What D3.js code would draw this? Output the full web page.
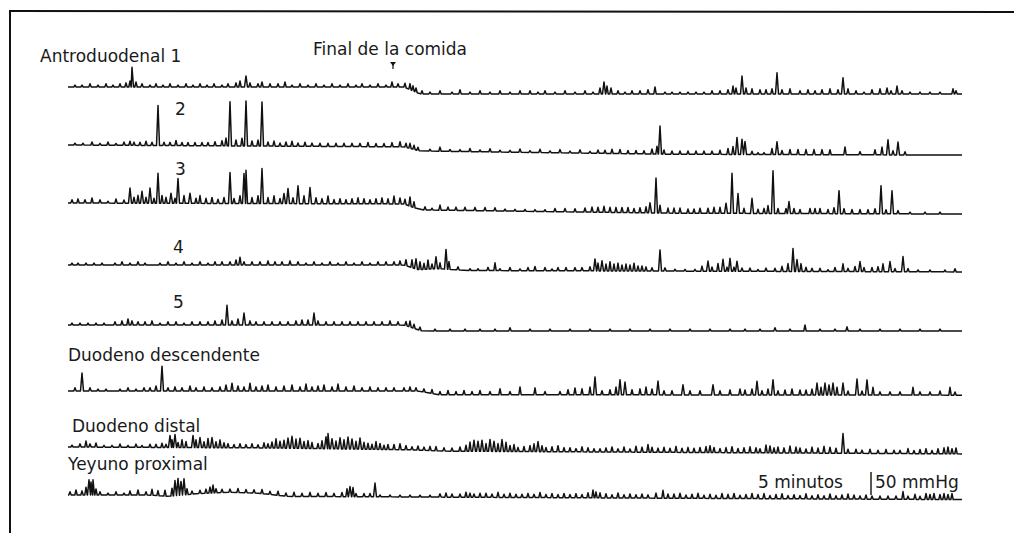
<!DOCTYPE html>
<html>
<head>
<meta charset="utf-8">
<script src="https://cdn.jsdelivr.net/npm/d3@7"></script>
<style>
  body { margin: 0; background: #fff; }
  text { font-family: "DejaVu Sans", sans-serif; font-size: 17px; fill: #1a1a1a; }
</style>
</head>
<body>
<svg id="chart" width="1014" height="533"></svg>
<script>
// channel labels, time in min, pressure waves as [t, mmHg]
var channels = ["Antroduodenal 1", "2", "3", "4", "5", "Duodeno descendente", "Duodeno distal", "Yeyuno proximal"];
var tEnd = 89.4;
var mealEnd = 32.5;
var scaleBarMmHg = 50;
var scaleBarT = 80.3;

var antro1 = [[0.7,4],[1.4,4],[2.2,7],[3.0,4],[3.8,7],[4.5,4],[5.2,7],[5.8,9],[6.2,13],[6.4,43],[6.8,11],[7.4,7],[8.2,4],[8.8,7],[9.5,4],[10.2,7],[11.0,4],[11.8,7],[12.5,4],[13.2,7],[13.9,4],[14.6,7],[15.4,4],[16.0,7],[16.8,9],[17.2,13],[17.8,24],[18.2,9],[19.0,7],[19.4,11],[20.2,7],[21.0,7],[21.7,11],[22.4,4],[23.2,7],[24.0,4],[24.8,7],[25.6,4],[26.4,7],[27.2,4],[28.0,7],[28.8,4],[29.4,7],[30.2,4],[31.0,7],[31.8,4],[32.4,11],[33.0,7],[33.7,9],[34.2,13],[34.5,11],[34.8,9],[35.4,7],[36.2,4],[37.2,7],[38.4,4],[39.2,9],[40.2,4],[41.2,7],[42.2,4],[43.2,7],[44.2,4],[45.2,7],[46.2,7],[47.0,4],[47.7,7],[48.7,4],[49.7,7],[50.7,4],[51.7,7],[52.5,4],[53.2,13],[53.6,26],[53.9,17],[54.3,13],[55.0,7],[55.7,4],[56.4,7],[57.2,7],[58.0,9],[58.7,15],[59.7,4],[60.4,4],[61.2,4],[62.0,4],[62.8,4],[63.6,4],[64.4,7],[65.2,7],[66.0,9],[66.5,17],[66.8,13],[67.4,39],[67.8,13],[68.4,11],[69.2,9],[69.8,9],[70.4,11],[70.9,46],[71.4,9],[72.2,11],[73.2,7],[74.0,9],[74.7,7],[75.4,9],[76.2,11],[77.0,9],[77.5,35],[78.0,11],[78.8,7],[79.6,4],[80.4,9],[81.2,11],[81.9,13],[82.3,7],[82.9,17],[83.4,7],[84.2,4],[85.2,4],[86.2,4],[87.2,4],[88.5,11],[88.8,7]];
var antro2 = [[0.7,4],[1.5,4],[2.4,7],[3.2,4],[4.0,7],[4.8,4],[5.6,7],[6.2,9],[6.6,7],[7.2,7],[7.8,9],[8.4,7],[9.0,87],[9.6,7],[10.2,7],[10.8,11],[11.4,7],[12.0,7],[12.7,7],[13.4,7],[14.0,7],[14.7,9],[15.4,11],[15.8,17],[16.2,96],[16.8,13],[17.4,17],[17.8,98],[18.4,11],[19.0,13],[19.4,96],[20.0,9],[20.6,11],[21.2,7],[21.8,9],[22.4,11],[23.0,7],[23.7,9],[24.4,7],[25.2,7],[26.0,7],[26.8,7],[27.6,7],[28.4,7],[29.2,7],[30.0,9],[30.8,7],[31.6,7],[32.4,9],[33.2,11],[33.8,9],[34.2,11],[34.6,9],[35.0,7],[36.2,4],[37.2,9],[38.2,4],[39.2,4],[40.2,7],[41.2,4],[42.2,7],[43.2,4],[44.2,4],[45.2,7],[46.2,4],[47.2,7],[48.2,4],[49.2,7],[50.2,4],[51.2,7],[52.2,4],[53.0,7],[53.7,7],[54.4,9],[55.2,9],[56.0,7],[56.8,7],[57.6,7],[58.4,11],[58.9,17],[59.2,61],[59.6,9],[60.4,7],[61.2,7],[62.0,7],[62.8,7],[63.6,7],[64.4,7],[65.2,9],[66.0,13],[66.5,17],[66.9,37],[67.4,33],[67.7,28],[68.4,7],[69.0,4],[69.6,4],[70.4,13],[70.9,28],[71.4,9],[72.2,11],[73.0,11],[73.8,11],[74.6,11],[75.4,11],[76.2,11],[77.7,17],[79.2,7],[80.7,11],[81.4,17],[82.0,33],[82.5,9],[83.0,28],[83.7,7]];
var antro3 = [[0.4,7],[1.0,9],[1.7,7],[2.4,11],[3.2,7],[4.0,4],[4.8,9],[5.6,7],[6.2,33],[6.6,13],[7.0,17],[7.4,26],[7.8,13],[8.2,33],[8.6,11],[9.0,65],[9.4,17],[9.8,13],[10.3,22],[10.7,11],[11.0,54],[11.6,17],[12.2,22],[12.8,11],[13.2,17],[13.8,11],[14.4,13],[15.0,9],[15.6,13],[16.2,67],[16.6,11],[17.2,17],[17.6,65],[17.8,72],[18.4,13],[19.0,17],[19.4,76],[20.0,13],[20.6,17],[21.2,11],[21.6,22],[22.0,33],[22.5,13],[23.0,39],[23.6,17],[24.2,35],[24.8,13],[25.4,11],[26.0,17],[26.6,9],[27.2,11],[27.8,9],[28.4,11],[29.0,13],[29.6,11],[30.2,9],[30.8,11],[31.4,13],[32.0,11],[32.6,17],[33.2,13],[33.7,11],[34.2,20],[34.6,13],[35.7,7],[36.4,4],[37.2,11],[38.0,7],[38.8,7],[39.7,7],[40.7,7],[41.7,7],[42.7,7],[43.7,4],[44.7,4],[45.7,4],[46.7,4],[47.7,4],[48.7,7],[49.7,7],[50.7,7],[51.7,9],[52.4,11],[53.0,11],[53.6,13],[54.2,11],[54.8,11],[55.4,11],[56.0,11],[56.6,9],[57.2,11],[57.8,13],[58.2,22],[58.8,76],[59.2,17],[60.0,11],[60.6,11],[61.2,11],[62.0,9],[62.6,9],[63.2,11],[64.0,11],[64.6,13],[65.2,13],[65.8,22],[66.4,87],[67.0,43],[67.6,11],[68.4,33],[69.0,9],[69.6,11],[70.0,17],[70.5,93],[71.0,11],[71.8,11],[72.1,26],[72.6,11],[73.2,9],[74.2,11],[74.7,11],[75.2,11],[76.0,9],[76.6,13],[77.1,50],[77.6,11],[78.4,9],[79.2,9],[80.0,9],[80.7,11],[81.3,61],[81.8,9],[82.4,50],[83.0,7],[84.2,4],[85.7,4],[87.2,4]];
var antro4 = [[0.4,4],[1.0,4],[1.8,4],[2.6,4],[3.4,4],[4.7,4],[5.4,7],[6.2,4],[7.0,7],[7.7,4],[9.2,4],[10.0,7],[10.8,4],[11.6,7],[12.4,4],[13.2,7],[14.0,4],[14.7,7],[15.4,7],[16.2,7],[16.8,11],[17.2,17],[17.6,7],[18.4,7],[19.2,7],[20.0,9],[20.7,7],[21.4,7],[22.2,9],[23.0,7],[23.8,4],[24.6,7],[25.4,4],[26.2,7],[27.0,4],[27.8,7],[28.6,4],[29.4,7],[30.2,4],[31.0,7],[31.8,7],[32.6,7],[33.2,9],[33.8,13],[34.4,17],[34.8,22],[35.2,17],[35.6,13],[36.0,20],[36.4,11],[36.8,26],[37.2,13],[37.8,43],[38.1,17],[39.0,7],[40.2,4],[41.0,4],[42.0,7],[42.7,17],[43.2,4],[44.2,7],[45.2,4],[46.0,7],[46.7,9],[47.7,7],[48.4,4],[49.0,7],[49.8,7],[50.7,7],[51.4,7],[52.2,9],[52.7,26],[53.0,17],[53.4,22],[53.8,15],[54.2,20],[54.6,15],[55.0,17],[55.4,13],[55.8,15],[56.2,13],[56.6,17],[57.0,11],[57.4,11],[57.8,9],[58.4,7],[59.2,46],[59.7,7],[60.7,4],[61.7,4],[62.7,4],[63.4,11],[64.0,22],[64.4,9],[65.0,17],[65.5,26],[65.9,9],[66.2,28],[66.6,9],[66.9,22],[67.4,7],[68.2,7],[69.0,4],[69.8,7],[70.7,7],[71.4,11],[72.0,17],[72.5,50],[72.9,26],[73.3,17],[73.8,9],[74.4,7],[75.2,7],[76.0,4],[76.7,9],[77.5,17],[78.0,7],[78.7,11],[79.2,22],[79.6,9],[80.4,9],[81.0,11],[81.5,17],[82.2,22],[82.7,7],[83.5,33],[84.0,7],[85.0,4],[86.2,4],[87.7,4],[88.7,7]];
var antro5 = [[0.4,4],[1.2,4],[2.0,4],[2.8,4],[3.6,4],[4.7,7],[5.4,9],[6.0,13],[6.4,9],[7.0,7],[7.7,7],[8.4,9],[9.2,4],[10.0,7],[10.8,7],[11.6,4],[12.4,7],[13.2,7],[14.0,7],[14.7,9],[15.4,11],[15.9,43],[16.4,9],[17.0,13],[17.6,26],[18.2,9],[18.8,7],[19.6,7],[20.4,7],[21.2,7],[22.0,7],[22.8,9],[23.4,11],[24.0,11],[24.6,26],[25.0,9],[25.8,7],[26.6,7],[27.4,7],[28.2,7],[29.0,7],[29.8,7],[30.6,7],[31.4,7],[32.2,9],[33.0,7],[33.8,9],[34.2,13],[34.6,9],[35.2,7],[36.7,4],[38.2,4],[39.7,4],[41.2,4],[42.7,4],[44.2,7],[46.2,4],[48.2,4],[50.2,4],[52.2,4],[54.2,4],[56.2,4],[58.2,4],[60.2,4],[62.2,4],[64.2,4],[66.2,4],[67.7,4],[69.2,4],[70.7,7],[72.2,4],[73.7,13],[75.2,4],[76.7,4],[77.9,9],[79.2,4],[81.2,4],[83.2,4],[85.2,4],[87.2,4]];
var duoDesc = [[0.7,7],[1.4,39],[2.2,7],[3.0,4],[3.8,4],[5.2,4],[6.0,7],[6.8,4],[7.6,7],[8.2,7],[8.8,11],[9.4,54],[10.0,7],[10.7,9],[11.4,7],[12.2,11],[12.8,7],[13.6,9],[14.4,7],[15.2,9],[15.8,13],[16.4,17],[17.0,11],[17.6,9],[18.2,17],[18.8,9],[19.4,11],[20.0,13],[20.8,9],[21.6,11],[22.4,13],[23.2,9],[23.8,15],[24.4,9],[25.0,11],[25.6,13],[26.4,9],[27.0,15],[27.8,9],[28.6,11],[29.4,7],[30.2,9],[31.0,7],[31.8,7],[32.6,7],[33.6,7],[34.2,9],[34.8,7],[35.6,7],[36.4,9],[37.2,7],[38.0,9],[38.8,7],[39.6,9],[40.4,7],[41.2,9],[42.2,7],[43.2,13],[44.2,7],[45.2,17],[46.7,15],[47.7,7],[49.2,7],[50.0,11],[50.7,15],[51.4,13],[52.2,17],[52.7,39],[53.4,9],[54.2,11],[54.8,17],[55.2,33],[55.7,28],[56.4,11],[57.2,13],[57.8,17],[58.4,13],[59.0,30],[59.6,9],[60.4,9],[61.5,22],[62.2,9],[63.2,9],[64.5,22],[65.2,9],[66.2,11],[67.2,13],[67.7,11],[68.4,13],[68.9,30],[69.4,9],[70.0,13],[70.5,33],[71.0,9],[71.7,11],[72.4,13],[73.2,11],[73.8,11],[74.4,13],[74.9,26],[75.3,17],[75.7,26],[76.1,22],[76.5,26],[76.9,17],[77.5,26],[78.0,9],[78.9,35],[79.4,9],[79.9,33],[80.5,17],[81.2,7],[82.2,7],[83.2,7],[84.5,17],[85.2,7],[86.2,7],[87.2,9],[88.2,17],[88.7,7]];
var duoDist = [[0.4,4],[1.2,7],[1.8,13],[2.2,7],[2.8,9],[3.6,4],[4.4,4],[5.2,7],[6.0,4],[6.8,7],[7.4,4],[8.2,7],[8.8,7],[9.4,9],[9.8,7],[10.2,26],[10.4,17],[10.7,28],[11.0,11],[11.4,17],[11.8,13],[12.5,26],[12.8,17],[13.2,22],[13.6,13],[14.0,20],[14.4,22],[14.8,13],[15.2,17],[15.6,11],[16.0,9],[16.6,7],[17.2,9],[17.8,7],[18.4,9],[19.0,7],[19.6,11],[20.0,9],[20.4,13],[20.8,20],[21.2,15],[21.6,17],[22.0,22],[22.4,26],[22.8,20],[23.2,22],[23.6,15],[24.0,17],[24.4,13],[25.0,11],[25.4,17],[25.8,26],[26.0,33],[26.4,22],[26.8,17],[27.2,24],[27.6,20],[28.0,26],[28.4,22],[28.8,17],[29.2,24],[29.6,15],[30.0,13],[30.4,11],[30.8,17],[31.2,13],[31.6,9],[32.0,11],[32.6,11],[33.2,13],[33.8,9],[34.4,7],[35.0,9],[35.6,7],[36.2,9],[36.8,9],[37.6,7],[38.4,7],[39.2,9],[39.8,13],[40.2,20],[40.6,24],[41.0,22],[41.4,24],[41.8,17],[42.2,26],[42.6,22],[43.0,17],[43.4,26],[43.8,20],[44.2,13],[44.6,15],[45.0,9],[45.6,11],[46.2,13],[46.6,17],[47.0,22],[47.4,13],[47.8,9],[48.4,11],[49.0,13],[49.6,9],[50.2,9],[50.8,7],[51.4,11],[52.0,9],[52.6,7],[53.2,7],[53.8,9],[54.4,11],[55.0,7],[55.6,11],[56.2,7],[56.8,13],[57.4,11],[58.0,17],[58.4,11],[59.0,9],[59.6,11],[60.2,9],[60.8,13],[61.4,9],[62.0,11],[62.6,9],[63.2,11],[63.8,13],[64.2,15],[64.6,11],[65.2,9],[65.8,11],[66.4,13],[67.0,9],[67.6,11],[68.2,13],[68.8,11],[69.2,9],[69.8,17],[70.2,15],[70.6,11],[71.0,13],[71.6,11],[72.2,15],[72.8,13],[73.2,11],[73.8,9],[74.4,13],[75.0,11],[75.6,15],[76.2,13],[76.8,11],[77.5,43],[78.0,9],[78.8,9],[79.4,7],[80.2,9],[81.0,7],[81.8,9],[82.6,7],[83.2,7],[84.0,11],[84.6,7],[85.2,9],[85.8,11],[86.4,7],[87.0,11],[87.6,13],[88.0,15],[88.4,11],[88.8,13]];
var yeyuno = [[0.2,7],[0.8,11],[1.4,9],[1.8,17],[2.1,33],[2.3,28],[2.5,33],[2.8,13],[3.2,7],[4.0,4],[4.8,7],[5.6,4],[6.2,9],[7.0,11],[7.8,7],[8.4,13],[9.0,11],[9.7,13],[10.4,17],[10.7,33],[11.0,37],[11.3,30],[11.6,35],[11.9,13],[12.4,7],[13.2,7],[13.8,9],[14.2,13],[14.5,17],[14.8,9],[15.4,7],[16.2,7],[17.0,9],[17.8,7],[18.6,7],[19.4,9],[20.2,7],[21.0,9],[21.8,7],[22.6,9],[23.4,7],[24.2,9],[25.0,7],[25.8,9],[26.6,7],[27.4,9],[27.9,17],[28.2,22],[28.5,20],[28.8,7],[29.6,7],[30.2,7],[30.7,30],[31.2,4],[32.2,4],[33.2,4],[34.2,4],[35.2,4],[36.2,4],[37.2,7],[37.8,9],[38.4,7],[39.2,7],[39.8,11],[40.2,9],[40.6,7],[41.2,9],[41.8,9],[42.4,7],[43.0,11],[43.6,7],[44.2,9],[44.8,7],[45.4,7],[46.0,9],[46.6,7],[47.2,11],[47.8,7],[48.4,9],[49.0,7],[49.6,9],[50.2,7],[50.8,9],[51.4,7],[52.0,11],[52.5,17],[52.8,13],[53.2,11],[53.8,9],[54.4,7],[55.0,11],[55.6,7],[56.2,9],[56.8,7],[57.4,9],[58.0,7],[58.8,11],[59.5,17],[60.0,9],[60.6,9],[61.2,11],[61.8,7],[62.4,9],[63.0,11],[63.6,7],[64.2,9],[64.8,7],[65.4,11],[66.0,9],[66.6,11],[67.2,7],[67.8,9],[68.4,11],[69.0,9],[69.6,11],[70.2,7],[70.8,9],[71.4,11],[72.0,7],[72.6,9],[73.2,7],[73.8,11],[74.4,7],[75.0,9],[75.6,7],[76.2,11],[76.8,7],[77.4,9],[78.0,11],[78.6,9],[79.2,7],[79.8,9],[80.4,7],[81.2,7],[82.0,7],[82.8,7],[83.5,17],[84.0,7],[84.7,11],[85.2,7],[85.8,13],[86.2,11],[86.6,13],[87.2,11],[87.6,13],[88.0,11],[88.4,13]];

// slow baseline shifts [t, mmHg]
var tone1 = [[0,0],[33.6,0],[35.2,-15],[89.4,-15]];
var tone2 = [[0,0],[33.6,-4],[35.2,-13],[60,-20],[89.4,-22]];
var tone3 = [[0,0],[33.6,-2],[35.2,-15],[60,-22],[89.4,-24]];
var tone4 = [[0,0],[33.6,0],[35,-10],[37,-8],[40,-12],[89.4,-15]];
var tone5 = [[0,0],[33.6,0],[35.4,-13],[89.4,-13]];
var toneDesc = [[0,0],[35,0],[37,-8],[89.4,-9]];
var toneDist = [[0,0],[20,-2],[34,-6],[38,-9],[89.4,-15]];
var toneYey = [[0,0],[8,0],[10,-3],[13,3],[16,6],[19,4],[22,-3],[89.4,-10]];

var traces = [
  {spikes: antro1, tone: tone1},
  {spikes: antro2, tone: tone2},
  {spikes: antro3, tone: tone3},
  {spikes: antro4, tone: tone4},
  {spikes: antro5, tone: tone5},
  {spikes: duoDesc, tone: toneDesc},
  {spikes: duoDist, tone: toneDist},
  {spikes: yeyuno, tone: toneYey}
];

var svg = d3.select('#chart');
var baseY = [87, 145, 203, 265, 325, 391, 447, 495];

var x = d3.scaleLinear().domain([0, tEnd]).range([68, 962]);
var p = d3.scaleLinear().domain([0, 50]).range([0, -23]);

// frame
svg.append('line').attr('x1', 10).attr('y1', 10).attr('x2', 10).attr('y2', 533)
  .attr('stroke', '#111').attr('stroke-width', 2);
svg.append('line').attr('x1', 10).attr('y1', 11).attr('x2', 1014).attr('y2', 12)
  .attr('stroke', '#111').attr('stroke-width', 2);

var line = d3.line().x(function(d) { return x(d[0]); }).y(function(d) { return d[1]; });

traces.forEach(function(tr, i) {
  var tone = d3.scaleLinear()
    .domain(tr.tone.map(function(d) { return d[0]; }))
    .range(tr.tone.map(function(d) { return d[1]; }))
    .clamp(true);
  var y = function(t, v) { return baseY[i] + p(tone(t) + v); };

  var pts = [[0, y(0, 0)]];
  var last = 0;
  tr.spikes.forEach(function(s) {
    // narrow waves, a little wider at the base for the big ones
    var hw = s[1] > 20 ? 0.15 : 0.12;
    var t0 = Math.max(s[0] - hw, last);
    pts.push([t0, y(t0, 0)]);
    pts.push([s[0], y(s[0], s[1])]);
    pts.push([s[0] + hw, y(s[0] + hw, 0)]);
    last = s[0] + hw;
  });
  pts.push([tEnd, y(tEnd, 0)]);

  svg.append('path')
    .attr('d', line(pts))
    .attr('fill', 'none')
    .attr('stroke', '#111')
    .attr('stroke-width', 1.5)
    .attr('stroke-linejoin', 'round');
});

// labels
var labelPos = [[40, 62], [175, 115], [175, 175], [173, 253], [173, 308], [68, 361], [72, 432], [68, 470]];
channels.forEach(function(name, i) {
  svg.append('text').attr('x', labelPos[i][0]).attr('y', labelPos[i][1]).text(name);
});

// end of meal marker
var mx = x(mealEnd);
svg.append('text').attr('x', 313).attr('y', 55).text('Final de la comida');
svg.append('path')
  .attr('d', 'M' + (mx - 3) + ',62 L' + (mx + 3) + ',62 L' + mx + ',66 Z')
  .attr('fill', '#111');
svg.append('line').attr('x1', mx).attr('x2', mx).attr('y1', 62).attr('y2', 69)
  .attr('stroke', '#111').attr('stroke-width', 1.2);

// calibration
var bx = x(scaleBarT);
svg.append('line').attr('x1', bx).attr('x2', bx)
  .attr('y1', 495).attr('y2', 495 + p(scaleBarMmHg))
  .attr('stroke', '#111').attr('stroke-width', 1.4);
svg.append('text').attr('x', 758).attr('y', 488).text('5 minutos');
svg.append('text').attr('x', bx + 4).attr('y', 488).text(scaleBarMmHg + ' mmHg');
</script>
</body>
</html>
